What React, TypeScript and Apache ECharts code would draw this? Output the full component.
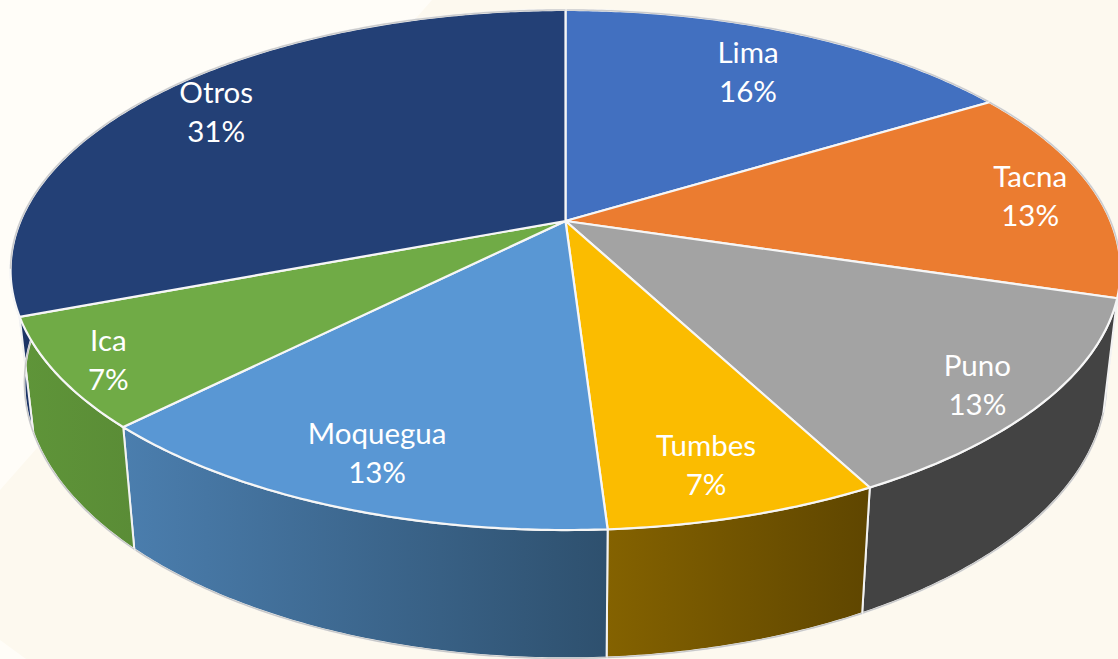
import React, { useEffect, useRef } from "react";
import * as echarts from "echarts";

const categories = ["Lima", "Tacna", "Puno", "Tumbes", "Moquegua", "Ica", "Otros"];
const shares = [16.3, 13.4, 12.6, 6.7, 13.4, 6.8, 30.8];
const topColors = ["#4270c0", "#eb7c30", "#a3a3a3", "#fbbc00", "#5997d4", "#70ab46", "#234076"];
const sideStart = ["#2a4679", "#8f4c1e", "#434343", "#846200", "#4b7eae", "#5f9539", "#1c3466"];
const sideEnd = ["#2a4679", "#8f4c1e", "#434343", "#5f4600", "#2e506e", "#5a8c36", "#1c3466"];
const labelRadius = [0.77, 0.875, 0.89, 0.85, 0.84, 0.91, 0.845];
const labelTurnDeg = [0, 0.5, 1.3, 0.8, 0, -0.3, -0.3];

const CX = 565.5;
const CY = 221;
const RX = 545;
const RY = 250.8;
const TILT = 0.1885;

function project(angle: number, r: number): [number, number] {
  const u = r * Math.sin(angle);
  const v = r * Math.cos(angle);
  const w = 1 + TILT * v;
  return [CX + (RX * u) / w, CY - (RY * v) / w];
}
function lower(p: [number, number]): [number, number] {
  return [CX + (p[0] - CX) * 0.975, 1.06 * p[1] + 96.5];
}
const total = shares.reduce((a, b) => a + b, 0);
function bounds(i: number): [number, number] {
  const before = shares.slice(0, i).reduce((a, b) => a + b, 0);
  const k = (Math.PI * 2) / total;
  return [before * k, (before + shares[i]) * k];
}
function angles(a0: number, a1: number): number[] {
  const n = Math.max(2, Math.ceil((a1 - a0) / 0.01));
  const out: number[] = [];
  for (let i = 0; i <= n; i++) out.push(a0 + ((a1 - a0) * i) / n);
  return out;
}

export default function App() {
  const ref = useRef<HTMLDivElement>(null);
  useEffect(() => {
    document.body.style.margin = "0";
    document.body.style.overflow = "hidden";
    const chart = echarts.init(ref.current!, null, { renderer: "svg" });
    const data = categories.map((name, i) => ({ name, value: shares[i] }));
    chart.setOption({
      animation: false,
      backgroundColor: "#fdf9ef",
      tooltip: { show: false },
      graphic: [
        {
          type: "polygon",
          z: -1,
          silent: true,
          shape: { points: [[0, 0], [432, 0], [0, 490]] },
          style: { fill: "#fffdf8" },
        },
        {
          type: "polygon",
          z: -1,
          silent: true,
          shape: { points: [[0, 640], [26, 659], [0, 659]] },
          style: { fill: "#fffdf8" },
        },
      ],
      series: [
        {
          type: "custom",
          coordinateSystem: "none",
          silent: true,
          data,
          z: 1,
          renderItem: (params: any) => {
            const i = params.dataIndex;
            const [a0, a1] = bounds(i);
            const top = angles(a0, a1).map((a) => project(a, 1));
            const bottom = top.map(lower);
            return {
              type: "group",
              children: [
                {
                  type: "polygon",
                  shape: { points: [...top, ...bottom.slice().reverse()] },
                  style: {
                    fill: new echarts.graphic.LinearGradient(0, 0, 1, 0, [
                      { offset: 0, color: sideStart[i] },
                      { offset: 1, color: sideEnd[i] },
                    ]),
                    stroke: "#f2f2f2",
                    lineWidth: 2,
                  },
                },
                {
                  type: "polyline",
                  shape: { points: bottom },
                  style: { fill: "none", stroke: "#c8c8c8", lineWidth: 1.4 },
                },
              ],
            };
          },
        },
        {
          type: "custom",
          coordinateSystem: "none",
          silent: true,
          data,
          z: 2,
          renderItem: (params: any) => {
            const i = params.dataIndex;
            const [a0, a1] = bounds(i);
            const list = angles(a0, a1);
            const top = list.map((a) => project(a, 1));
            const back = list.filter((a) => Math.cos(a) > -TILT).map((a) => project(a, 1));
            const mid = (a0 + a1) / 2 + (labelTurnDeg[i] * Math.PI) / 180;
            const [lx, ly] = project(mid, labelRadius[i]);
            const pct = Math.round((shares[i] / total) * 100);
            const children: any[] = [
              {
                type: "polygon",
                shape: { points: [project(0, 0), ...top] },
                style: { fill: topColors[i], stroke: "#f6f6f6", lineWidth: 2.2 },
              },
            ];
            if (back.length > 1) {
              children.push({
                type: "polyline",
                shape: { points: back },
                style: { fill: "none", stroke: "#cbcbcb", lineWidth: 1.5 },
              });
            }
            children.push({
              type: "text",
              x: lx,
              y: ly - 1,
              style: {
                text: `${categories[i]}\n${pct}%`,
                fill: "#ffffff",
                font: "400 29.5px Lato, sans-serif",
                lineHeight: 39,
                align: "center",
                verticalAlign: "middle",
              },
            });
            return { type: "group", children };
          },
        },
      ],
    });
    return () => chart.dispose();
  }, []);
  return <div ref={ref} style={{ width: 1118, height: 659 }} />;
}
